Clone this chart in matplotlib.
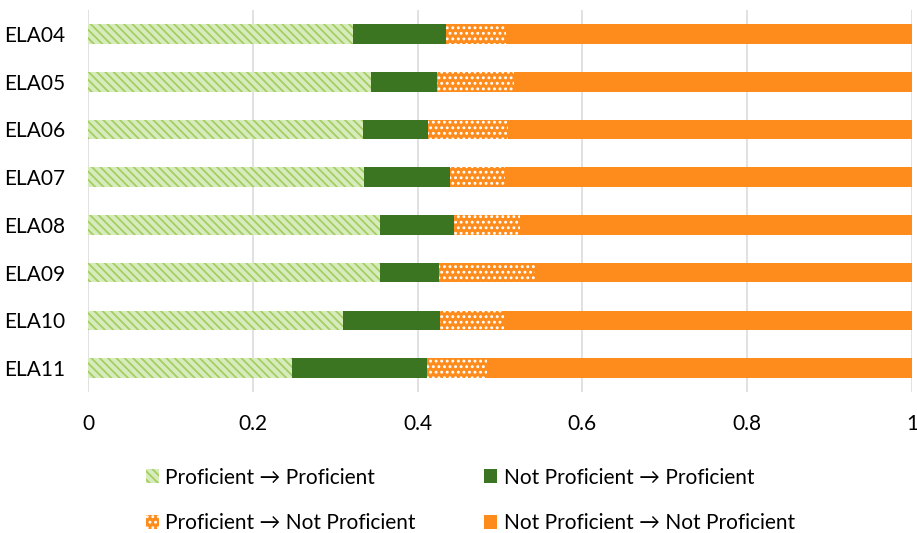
import numpy as np
from matplotlib import pyplot as plt
from matplotlib.patches import Patch

grades = ["ELA04", "ELA05", "ELA06", "ELA07", "ELA08", "ELA09", "ELA10", "ELA11"]

prof_to_prof = [0.321, 0.343, 0.334, 0.335, 0.354, 0.354, 0.309, 0.248]
notprof_to_prof = [0.113, 0.081, 0.079, 0.104, 0.090, 0.072, 0.118, 0.163]
prof_to_notprof = [0.073, 0.093, 0.097, 0.067, 0.080, 0.116, 0.078, 0.073]
notprof_to_notprof = [0.493, 0.483, 0.490, 0.494, 0.476, 0.458, 0.495, 0.516]

labels = [
    "Proficient \u2192 Proficient",
    "Not Proficient \u2192 Proficient",
    "Proficient \u2192 Not Proficient",
    "Not Proficient \u2192 Not Proficient",
]

# (facecolor, edge/hatch color, hatch)
styles = [
    ("#d8ebbd", "#a3cf62", "\\\\\\\\"),
    ("#3b7521", "#3b7521", None),
    ("#fe8c1c", "#ffffff", "..."),
    ("#fe8c1c", "#fe8c1c", None),
]

plt.rcParams["font.family"] = ["Lato", "DejaVu Sans"]
plt.rcParams["hatch.linewidth"] = 1.3

fig = plt.figure(figsize=(9.17, 5.33), dpi=100)
ax = fig.add_axes([0.096, 0.2645, 0.8985, 0.7165])

y = np.arange(len(grades))
series = [prof_to_prof, notprof_to_prof, prof_to_notprof, notprof_to_notprof]
left = np.zeros(len(grades))
handles = []
for vals, (fc, ec, hatch), label in zip(series, styles, labels):
    ax.barh(y, vals, left=left, height=0.41, color=fc, edgecolor=ec,
            hatch=hatch, linewidth=0, zorder=3)
    left += np.array(vals)
    handles.append(Patch(facecolor=fc, edgecolor=ec, hatch=hatch,
                         linewidth=0, label=label))

ax.set_xlim(0, 1)
ax.set_ylim(len(grades) - 0.5, -0.5)
ax.set_yticks(y)
ax.set_yticklabels(grades)
ax.set_xticks([0, 0.2, 0.4, 0.6, 0.8, 1])
ax.set_xticklabels(["0", "0.2", "0.4", "0.6", "0.8", "1"])
ax.tick_params(length=0, labelsize=15, colors="#000000")
ax.tick_params(axis="x", pad=15.5)
ax.tick_params(axis="y", pad=16.5)
ax.grid(axis="x", color="#d9d9d9", linewidth=1.1, zorder=0)
for spine in ax.spines.values():
    spine.set_visible(False)

# column-first ordering so rows read P->P / NP->P, then P->NP / NP->NP
order = [0, 2, 1, 3]
fig.legend([handles[i] for i in order], [labels[i] for i in order],
           loc="center", bbox_to_anchor=(0.513, 0.061), ncol=2,
           frameon=False, fontsize=15, handlelength=0.62,
           handleheight=0.62, handletextpad=0.3, labelspacing=1.24,
           columnspacing=3.3)

fig.savefig("out.png", dpi=100)
